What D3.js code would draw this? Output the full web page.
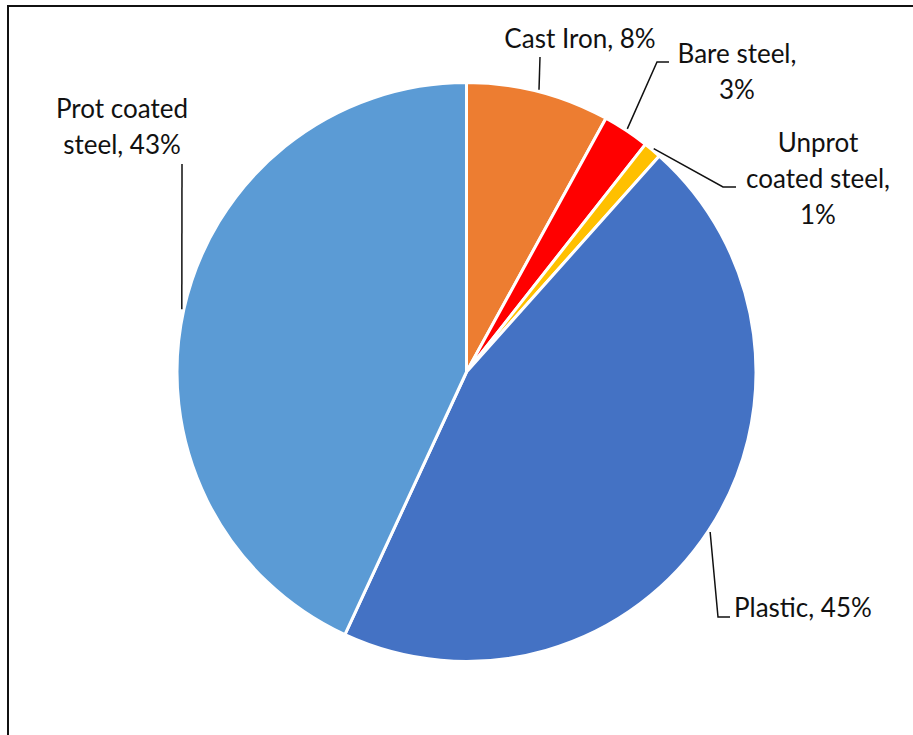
<!DOCTYPE html>
<html>
<head>
<meta charset="utf-8">
<script src="https://cdn.jsdelivr.net/npm/d3@7"></script>
<style>
  html, body { margin: 0; padding: 0; background: #fff; }
  svg { display: block; }
  text { font-family: Lato, "Open Sans", sans-serif; fill: #111; }
</style>
</head>
<body>
<svg id="chart" width="913" height="735"></svg>
<script>
// Pipe material shares (percent), clockwise from 12 o'clock
const categories = ["Cast Iron", "Bare steel", "Unprot coated steel", "Plastic", "Prot coated steel"];
const shares = [8.0, 2.6, 1.0, 45.3, 43.1];
const colors = ["#ED7D31", "#FF0000", "#FFC000", "#4472C4", "#5B9BD5"];
// Label text lines (value placeholder filled from the share)
const labelLines = [
  ["Cast Iron, {v}"],
  ["Bare steel,", "{v}"],
  ["Unprot", "coated steel,", "{v}"],
  ["Plastic, {v}"],
  ["Prot coated", "steel, {v}"]
];

// Label placement: text anchor point, alignment, and leader elbow points
const labelLayout = [
  { x: 580, y: 48, anchor: "middle", leader: [[540, 57]] },
  { x: 737, y: 63, anchor: "middle", leader: [[657, 62], [669, 62]] },
  { x: 818, y: 152, anchor: "middle", leader: [[723, 187], [736, 187]] },
  { x: 734, y: 617, anchor: "start", leader: [[718, 617], [730, 617]] },
  { x: 122, y: 118, anchor: "middle", leader: [[182, 164]] }
];

const svg = d3.select("#chart");
const cx = 466.5, cy = 372, r = 289.5;
const lineGap = 36;

// Chart frame
svg.append("rect")
  .attr("x", 8).attr("y", 6)
  .attr("width", 940).attr("height", 760)
  .attr("fill", "none")
  .attr("stroke", "#111")
  .attr("stroke-width", 2);

const data = categories.map((c, i) => ({ name: c, value: shares[i], color: colors[i], lines: labelLines[i], layout: labelLayout[i] }));

const pie = d3.pie().sort(null).value(d => d.value).startAngle(0).endAngle(2 * Math.PI);
const arcs = pie(data);

const arc = d3.arc().innerRadius(0).outerRadius(r);
const edgeArc = d3.arc().innerRadius(r + 2).outerRadius(r + 2);

const g = svg.append("g").attr("transform", `translate(${cx},${cy})`);

g.selectAll("path.slice")
  .data(arcs)
  .join("path")
  .attr("class", "slice")
  .attr("d", arc)
  .attr("fill", d => d.data.color)
  .attr("stroke", "#fff")
  .attr("stroke-width", 3)
  .attr("stroke-linejoin", "round");

// Leader lines from slice edge (mid-angle) to the label
const line = d3.line();
arcs.forEach(a => {
  const [sx, sy] = edgeArc.centroid(a);
  const pts = [[sx + cx, sy + cy]].concat(a.data.layout.leader);
  svg.append("path")
    .attr("d", line(pts))
    .attr("fill", "none")
    .attr("stroke", "#111")
    .attr("stroke-width", 1.5);
});

// Labels
const fmt = v => Math.round(v) + "%";
arcs.forEach(a => {
  const L = a.data.layout;
  const t = svg.append("text")
    .attr("x", L.x).attr("y", L.y)
    .attr("text-anchor", L.anchor)
    .style("font-size", "26px");
  a.data.lines.forEach((s, i) => {
    t.append("tspan")
      .attr("x", L.x)
      .attr("dy", i === 0 ? 0 : lineGap)
      .text(s.replace("{v}", fmt(a.data.value)));
  });
});
</script>
</body>
</html>
